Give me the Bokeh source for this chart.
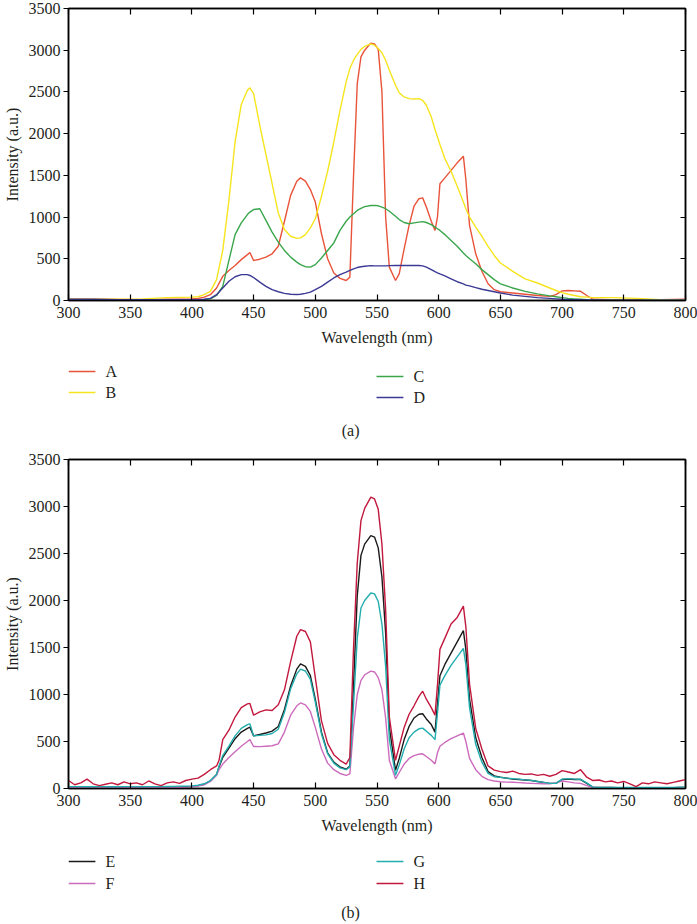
from bokeh.plotting import figure
from bokeh.models import (Range1d, FixedTicker, LinearAxis, CustomJSTickFormatter)
from bokeh.core.properties import value
from bokeh.layouts import column
from bokeh.embed import file_html
from bokeh.resources import INLINE

# ---------------- data ----------------
X_TICKS = [300, 350, 400, 450, 500, 550, 600, 650, 700, 750, 800]
Y_TICKS = [0, 500, 1000, 1500, 2000, 2500, 3000, 3500]

# panel (a) wavelength grid (nm)
WL_A = [300, 320, 340, 360, 380, 400, 405, 410, 415, 420,
        425, 430, 435, 440, 445, 447, 450, 455, 460, 465,
        470, 475, 480, 485, 488, 492, 496, 500, 505, 510,
        515, 520, 525, 528, 531, 534, 537, 540, 545, 548,
        551, 554, 557, 560, 565, 568, 572, 576, 580, 584,
        587, 590, 594, 597, 599, 601, 605, 610, 615, 620,
        622, 625, 630, 635, 640, 645, 650, 660, 670, 680,
        690, 695, 700, 705, 710, 715, 720, 725, 740, 760,
        780, 800]

A_INT = [15, 15, 12, 10, 15, 20, 25, 40, 70, 150,
         290, 360, 420, 490, 550, 575, 480, 495, 520, 560,
         650, 950, 1260, 1430, 1470, 1430, 1330, 1180, 800, 500,
         330, 265, 240, 280, 1500, 2600, 2920, 3000, 3085, 3075,
         3010, 2500, 1000, 400, 240, 320, 620, 900, 1130, 1220,
         1230, 1120, 950, 840, 1000, 1400, 1470, 1560, 1650, 1730,
         1450, 900, 560, 350, 200, 130, 105, 90, 75, 60,
         50, 70, 115, 120, 115, 110, 60, 15, 10, 10,
         10, 15]

B_INT = [15, 15, 15, 20, 35, 40, 45, 70, 110, 250,
         600, 1200, 1900, 2350, 2520, 2550, 2480, 2100, 1750, 1400,
         1050, 850, 770, 745, 750, 790, 870, 980, 1250, 1550,
         1900, 2280, 2620, 2780, 2880, 2950, 3010, 3045, 3075, 3060,
         3020, 2970, 2880, 2760, 2580, 2490, 2440, 2420, 2415, 2420,
         2400, 2340, 2200, 2050, 1960, 1870, 1700, 1550, 1370, 1180,
         1100, 1000, 880, 770, 650, 540, 450, 350, 260, 210,
         150, 120, 95, 75, 60, 45, 40, 35, 35, 25,
         10, 5]

C_INT = [10, 5, 8, 10, 10, 10, 10, 12, 20, 60,
         170, 480, 790, 930, 1030, 1060, 1090, 1100, 960, 820,
         700, 600, 520, 460, 430, 405, 400, 430, 510, 600,
         690, 840, 950, 1000, 1040, 1080, 1105, 1125, 1138, 1140,
         1135, 1120, 1100, 1070, 1010, 970, 935, 920, 930, 940,
         945, 935, 910, 880, 860, 840, 790, 720, 650, 570,
         540, 500, 440, 370, 310, 250, 200, 150, 110, 80,
         55, 45, 35, 25, 20, 15, 10, 8, 5, 5,
         5, 5]

D_INT = [15, 15, 10, 10, 10, 10, 10, 15, 25, 70,
         150, 230, 285, 310, 310, 300, 275, 220, 170, 130,
         105, 85, 75, 72, 75, 85, 100, 130, 170, 220,
         270, 310, 340, 360, 380, 395, 405, 410, 418, 415,
         415, 415, 415, 418, 420, 420, 420, 420, 420, 420,
         415, 400, 370, 345, 330, 318, 295, 260, 225, 200,
         185, 175, 155, 135, 120, 105, 90, 65, 50, 35,
         25, 20, 15, 12, 10, 10, 8, 8, 5, 5,
         5, 5]

# panel (b) wavelength grid (nm)
WL_B = [300, 305, 310, 315, 320, 325, 330, 335, 340, 345,
        350, 355, 360, 365, 370, 375, 380, 385, 390, 395,
        400, 405, 410, 415, 420, 422, 425, 430, 435, 440,
        445, 447, 450, 455, 460, 465, 470, 475, 480, 485,
        488, 492, 496, 500, 505, 510, 515, 520, 525, 528,
        531, 534, 537, 540, 545, 548, 551, 554, 557, 560,
        565, 568, 572, 576, 580, 584, 587, 590, 594, 597,
        599, 601, 605, 610, 615, 620, 622, 625, 630, 635,
        640, 645, 650, 655, 660, 665, 670, 675, 680, 685,
        690, 695, 700, 705, 710, 715, 720, 725, 730, 735,
        740, 745, 750, 755, 760, 765, 770, 775, 780, 785,
        790, 795, 800]

E_INT = [15, 15, 12, 12, 10, 10, 10, 12, 10, 10,
         10, 10, 12, 10, 10, 12, 10, 12, 15, 18,
         20, 30, 45, 80, 150, 230, 330, 430, 530, 600,
         640, 652, 560, 575, 590, 610, 660, 840, 1090, 1270,
         1326, 1300, 1200, 950, 600, 380, 280, 230, 205, 240,
         1100, 2050, 2480, 2600, 2690, 2675, 2560, 2250, 1650, 650,
         195, 320, 520, 660, 750, 790, 795, 740, 680, 600,
         900, 1200, 1320, 1440, 1560, 1680, 1480, 950, 540, 330,
         180, 135, 120, 110, 100, 95, 90, 85, 75, 65,
         55, 55, 95, 100, 95, 95, 55, 12, 10, 10,
         10, 8, 8, 8, 8, 8, 8, 8, 8, 8,
         8, 10, 10]

F_INT = [8, 8, 8, 8, 8, 8, 8, 8, 8, 8,
         8, 8, 8, 8, 8, 8, 10, 10, 12, 15,
         18, 25, 40, 75, 140, 200, 260, 330, 390, 450,
         500, 520, 447, 445, 450, 455, 475, 600, 780, 880,
         910, 890, 820, 650, 420, 270, 200, 160, 140, 155,
         650, 1000, 1150, 1210, 1248, 1240, 1180, 1050, 750, 300,
         103, 170, 260, 320, 350, 365, 369, 340, 300, 262,
         380, 450, 490, 530, 560, 590, 500, 320, 200, 130,
         95, 80, 72, 68, 66, 62, 58, 55, 52, 50,
         50, 60, 80, 70, 60, 55, 30, 10, 8, 8,
         8, 8, 8, 8, 8, 8, 8, 8, 8, 8,
         8, 8, 8]

G_INT = [20, 20, 20, 18, 18, 20, 20, 18, 18, 20,
         20, 20, 18, 20, 20, 20, 22, 22, 25, 25,
         28, 35, 50, 85, 150, 240, 350, 450, 560, 640,
         680, 688, 560, 565, 570, 585, 630, 810, 1060, 1220,
         1270, 1250, 1160, 920, 580, 370, 270, 220, 200, 230,
         900, 1600, 1920, 2000, 2080, 2070, 1990, 1750, 1300, 520,
         140, 250, 420, 540, 600, 635, 642, 610, 565, 520,
         800, 1100, 1200, 1310, 1400, 1490, 1320, 860, 470, 280,
         160, 125, 118, 110, 105, 100, 92, 86, 75, 65,
         55, 55, 100, 105, 100, 98, 60, 15, 12, 12,
         12, 10, 10, 10, 10, 10, 10, 10, 12, 12,
         12, 15, 15]

H_INT = [85, 40, 60, 100, 50, 30, 45, 60, 40, 70,
         50, 60, 40, 80, 50, 30, 60, 70, 55, 85,
         100, 110, 150, 200, 240, 300, 520, 620, 760, 860,
         900, 905, 780, 815, 837, 830, 890, 1050, 1350, 1620,
         1690, 1670, 1560, 1180, 720, 480, 360, 300, 260, 330,
         1500, 2400, 2850, 2980, 3100, 3080, 2970, 2600, 1900, 760,
         300, 450, 650, 790, 880, 980, 1035, 950, 860, 780,
         1100, 1480, 1600, 1750, 1820, 1940, 1720, 1110, 640, 420,
         240, 195, 180, 170, 185, 160, 150, 155, 140, 150,
         130, 150, 190, 175, 160, 200, 120, 85, 90, 70,
         80, 60, 75, 50, 20, 60, 50, 70, 60, 50,
         65, 80, 95]

NAMES_A = ["A", "B", "C", "D"]
COLORS_A = ["#e8533a", "#f6e51e", "#3aa64c", "#3c3a94"]
NAMES_B = ["E", "F", "G", "H"]
COLORS_B = ["#1a1a1a", "#cc6bbd", "#22adae", "#c2183e"]

FONT = "Liberation Serif"
TXT = "#231f20"
FS = "16px"
W = 697
LW = 1.4
FRAME_L, FRAME_R = 66, 685   # page pixels of the plot frames


def blank_axis(ticks, tick_in):
    ax = LinearAxis(ticker=FixedTicker(ticks=ticks),
                    formatter=CustomJSTickFormatter(code="return ''"))
    ax.major_tick_in = tick_in
    ax.major_tick_out = 0
    ax.minor_tick_line_color = None
    ax.major_label_text_font_size = "0px"
    ax.major_label_standoff = 0
    ax.axis_label_standoff = 0
    ax.axis_line_width = 1.5
    ax.major_tick_line_width = 1.2
    return ax


def main_plot(wl, series, colors, height, top, bottom):
    p = figure(width=W, height=height,
               x_range=Range1d(300, 800), y_range=Range1d(0, 3500),
               output_backend="svg", toolbar_location=None,
               min_border_left=FRAME_L, min_border_right=W - FRAME_R,
               min_border_top=top, min_border_bottom=bottom)
    p.grid.visible = False
    p.outline_line_color = "black"
    p.outline_line_width = 1.5

    for ys, c in zip(series, colors):
        p.line(wl, ys, line_color=c, line_width=LW)

    xa = p.xaxis[0]
    xa.ticker = FixedTicker(ticks=X_TICKS)
    xa.major_tick_in = 6
    xa.major_tick_out = 0
    xa.major_tick_line_width = 1.2
    xa.minor_tick_line_color = None
    xa.axis_line_width = 1.5
    xa.major_label_standoff = 6
    xa.major_label_text_font = FONT
    xa.major_label_text_font_size = FS
    xa.major_label_text_color = TXT
    xa.axis_label = "Wavelength (nm)"
    xa.axis_label_text_font = FONT
    xa.axis_label_text_font_size = FS
    xa.axis_label_text_font_style = "normal"
    xa.axis_label_text_color = TXT
    xa.axis_label_standoff = 8

    ya = p.yaxis[0]
    ya.ticker = FixedTicker(ticks=Y_TICKS)
    ya.major_tick_in = 0
    ya.major_tick_out = 5
    ya.major_tick_line_width = 1.2
    ya.minor_tick_line_color = None
    ya.axis_line_width = 1.5
    ya.major_label_standoff = 3
    ya.major_label_text_font = FONT
    ya.major_label_text_font_size = FS
    ya.major_label_text_color = TXT
    ya.axis_label = "Intensity (a.u.)"
    ya.axis_label_text_font = FONT
    ya.axis_label_text_font_size = FS
    ya.axis_label_text_font_style = "normal"
    ya.axis_label_text_color = TXT
    ya.axis_label_standoff = 5

    p.add_layout(blank_axis(X_TICKS, 6), "above")
    p.add_layout(blank_axis(Y_TICKS, 5), "right")
    return p


def legend_plot(names, colors, caption, height, rows_left, rows_right, cap_y):
    """Legend strip + caption; its frame is aligned with the plot frame
    above, and its ranges are expressed in page pixels."""
    q = figure(width=W, height=height, x_range=Range1d(FRAME_L, FRAME_R),
               y_range=Range1d(0, height), x_axis_type=None, y_axis_type=None,
               output_backend="svg", toolbar_location=None, min_border=0)
    q.grid.visible = False
    q.outline_line_color = None
    col_x = [66, 66, 375, 375]
    row_y = list(rows_left) + list(rows_right)
    for name, c, x0, y in zip(names, colors, col_x, row_y):
        q.line([x0, x0 + 27], [y, y], line_color=c, line_width=LW)
        q.text([x0 + 37], [y], text=[name], text_font=value(FONT),
               text_font_size=FS, text_color=TXT, text_baseline="middle",
               text_align="left")
    q.text([349], [cap_y], text=[caption], text_font=value(FONT),
           text_font_size=FS, text_color=TXT, text_baseline="middle",
           text_align="center")
    return q


p1 = main_plot(WL_A, [A_INT, B_INT, C_INT, D_INT], COLORS_A,
               height=354, top=8, bottom=54)
q1 = legend_plot(NAMES_A, COLORS_A, "(a)", height=92,
                 rows_left=(75, 54), rows_right=(70, 49), cap_y=16)
p2 = main_plot(WL_B, [E_INT, F_INT, G_INT, H_INT], COLORS_B,
               height=392, top=13, bottom=50)
q2 = legend_plot(NAMES_B, COLORS_B, "(b)", height=85,
                 rows_left=(62, 40), rows_right=(62, 40), cap_y=11)

layout = column(p1, q1, p2, q2, spacing=0)
open("out.html", "w").write(file_html(layout, INLINE))
